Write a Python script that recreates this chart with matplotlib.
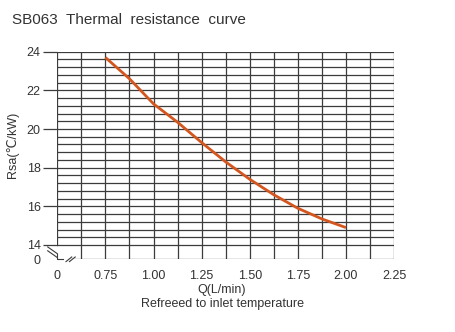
import numpy as np
import matplotlib
matplotlib.use("Agg")
import matplotlib.pyplot as plt

plt.rcParams['font.family'] = ['Liberation Sans', 'DejaVu Sans']

# Flow rate (L/min) and thermal resistance Rsa (degC/kW)
flow = [0.75, 0.875, 1.0, 1.125, 1.25, 1.375, 1.5, 1.625, 1.75, 1.875, 2.0]
rsa = [23.7, 22.6, 21.3, 20.35, 19.3, 18.3, 17.4, 16.6, 15.9, 15.35, 14.9]

x_ticks = [0.5, 0.75, 1.0, 1.25, 1.5, 1.75, 2.0, 2.25]
x_labels = ["0", "0.75", "1.00", "1.25", "1.50", "1.75", "2.00", "2.25"]
y_ticks = [14, 16, 18, 20, 22, 24]
y_labels = ["14", "16", "18", "20", "22", "24"]

X_MIN, X_MAX = 0.5, 2.25
Y_MIN, Y_MAX = 14.0, 24.0
Y_FLOOR = 13.26          # broken-axis baseline, shown as "0"

fig = plt.figure(figsize=(4.55, 3.32), dpi=100)
ax = fig.add_axes([0.126, 0.219, 0.74, 0.6253])
ax.set_xlim(X_MIN, X_MAX)
ax.set_ylim(Y_FLOOR, Y_MAX)
for s in ax.spines.values():
    s.set_visible(False)

grid_c = '#3c3c3c'
# horizontal grid every 0.4 between 14 and 24
for yv in np.linspace(Y_MIN, Y_MAX, 26):
    ax.plot([X_MIN, X_MAX], [yv, yv], color=grid_c, lw=0.9, zorder=1)
# vertical grid every 0.125
for xv in np.linspace(X_MIN, X_MAX, 15):
    y_bot = Y_MIN if xv == X_MIN else Y_FLOOR
    ax.plot([xv, xv], [y_bot, Y_MAX], color=grid_c, lw=0.9, zorder=1)
# bottom baseline, broken near the origin
ax.plot([0.575, X_MAX], [Y_FLOOR, Y_FLOOR], color=grid_c, lw=0.9, zorder=1)
ax.plot([X_MIN, X_MIN, 0.53], [Y_FLOOR + 0.25, Y_FLOOR, Y_FLOOR],
        color=grid_c, lw=0.8, zorder=1, clip_on=False)

# break marks
for dx in (0.0, 0.018):
    ax.plot([0.545 + dx, 0.575 + dx], [Y_FLOOR - 0.12, Y_FLOOR + 0.12],
            color=grid_c, lw=0.8, clip_on=False)
for dy in (0.0, 0.2):
    ax.plot([0.45, 0.50], [Y_MIN - 0.1 - dy, Y_MIN - 0.45 - dy],
            color=grid_c, lw=0.8, clip_on=False)

# curve
ax.plot(flow, rsa, color='#d4561f', lw=2.0, zorder=3, solid_capstyle='butt')

# ticks
ax.set_yticks([Y_FLOOR] + y_ticks, labels=["0"] + y_labels)
ax.tick_params(axis='y', length=10, width=0.9, color=grid_c, pad=2,
               labelsize=9, labelcolor='#333333')
ax.yaxis.get_major_ticks()[0].tick1line.set_visible(False)
ax.set_xticks(x_ticks, labels=x_labels)
ax.tick_params(axis='x', length=0, pad=8, labelsize=9, labelcolor='#333333')

ax.set_ylabel("Rsa(\u2103/kW)", fontsize=9, color='#333333')
ax.yaxis.set_label_coords(-0.115, 0.55)

fig.text(0.488, 0.125, "Q(L/min)", ha='center', va='center', fontsize=9,
         color='#333333')
fig.text(0.488, 0.083, "Refreeed to inlet temperature", ha='center', va='center',
         fontsize=9, color='#333333')
fig.text(0.026, 0.94, "SB063  Thermal  resistance  curve", ha='left', va='center',
         fontsize=11, color='#333333')

fig.savefig("out.png", dpi=100)
